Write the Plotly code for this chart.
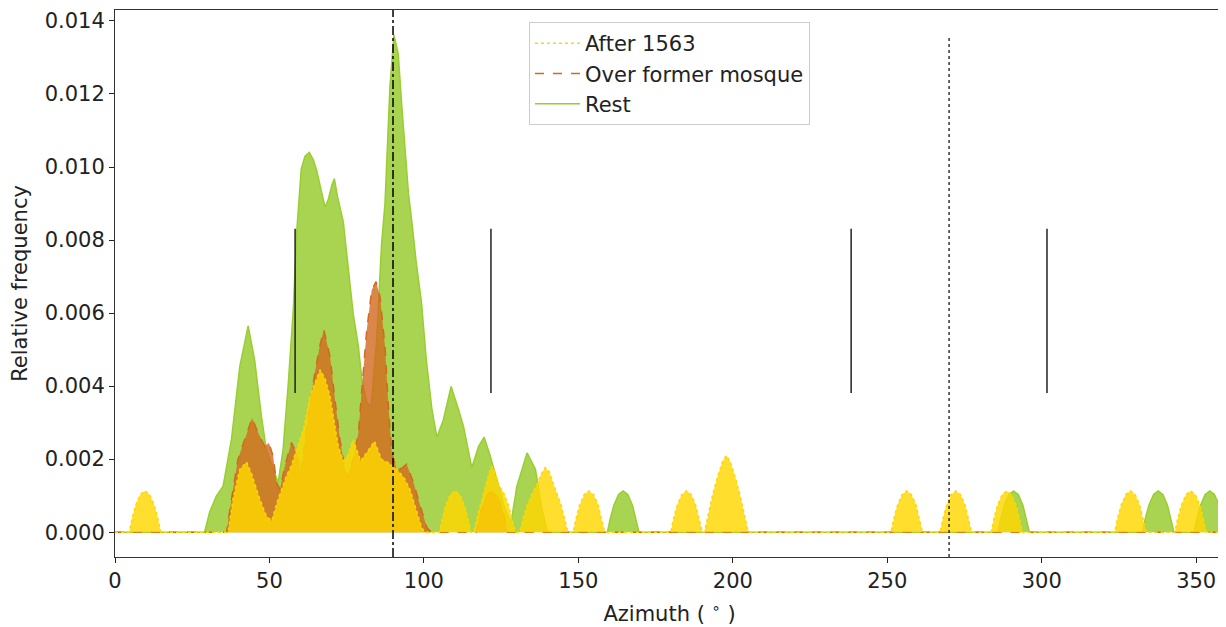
import plotly.graph_objects as go

# ---------------- data ----------------
# Rest
rest_az = [0, 29.0, 30.6, 32.8, 35.0, 37.7, 40.4, 43.1, 45.2, 47.4, 49.0, 51.2, 52.8, 54.4, 56.1,
           57.7, 58.8, 60.3, 61.5, 62.9, 64.2, 65.3, 66.8, 68.0, 69.0, 70.2, 71.0, 72.0, 73.9, 75.5,
           77.1, 78.8, 79.9, 81.5, 82.9, 84.7, 86.3, 87.4, 88.2, 89.0, 90.3, 91.7, 92.8, 93.9, 95.0,
           96.1, 97.5, 99.2, 100.8, 102.6, 104.2, 106.3, 108.8, 111.2, 112.8, 115.5, 117.7, 119.5,
           121.5, 124.2, 126.3, 128.2, 130.1, 133.4, 136.1, 138.2, 140.0,
           159.4, 160.3, 161.5, 163.0, 164.5, 166.0, 167.5, 168.7, 169.6,
           285.8, 286.7, 287.9, 289.4, 290.9, 292.4, 293.9, 295.1, 296.0,
           332.6, 333.5, 334.7, 336.2, 337.7, 339.2, 340.7, 341.9, 342.8,
           349.3, 350.2, 351.4, 352.9, 354.4, 355.9, 357.4, 358.6, 359.6, 360]
rest_freq = [0, 0, 0.54e-3, 0.99e-3, 1.26e-3, 2.54e-3, 4.54e-3, 5.65e-3, 4.72e-3, 3.17e-3, 2.26e-3,
             1.72e-3, 1.36e-3, 2.26e-3, 4.08e-3, 6.08e-3, 8.2e-3, 9.95e-3, 10.3e-3, 10.4e-3, 10.2e-3,
             9.9e-3, 9.3e-3, 8.9e-3, 9.1e-3, 9.5e-3, 9.68e-3, 9.2e-3, 8.5e-3, 7.27e-3, 5.99e-3,
             5.08e-3, 4.2e-3, 3.54e-3, 3.45e-3, 5.27e-3, 7.9e-3, 9.0e-3, 10.4e-3, 12.2e-3, 13.62e-3,
             13.09e-3, 11.72e-3, 10.36e-3, 9.27e-3, 8.5e-3, 7.4e-3, 6.3e-3, 4.7e-3, 3.36e-3, 2.6e-3,
             3.08e-3, 3.99e-3, 3.36e-3, 2.9e-3, 1.77e-3, 2.35e-3, 2.6e-3, 2.08e-3, 1.26e-3, 0.63e-3,
             0.26e-3, 1.26e-3, 2.17e-3, 1.72e-3, 0.63e-3, 0,
             0, 0.36e-3, 0.74e-3, 1.03e-3, 1.13e-3, 1.03e-3, 0.74e-3, 0.36e-3, 0,
             0, 0.36e-3, 0.74e-3, 1.03e-3, 1.13e-3, 1.03e-3, 0.74e-3, 0.36e-3, 0,
             0, 0.36e-3, 0.74e-3, 1.03e-3, 1.13e-3, 1.03e-3, 0.74e-3, 0.36e-3, 0,
             0, 0.36e-3, 0.74e-3, 1.03e-3, 1.13e-3, 1.03e-3, 0.74e-3, 0.36e-3, 0.08e-3, 0]

# Over former mosque
mosque_az = [0, 36.1, 37.7, 39.8, 42.0, 44.4, 46.3, 48.5, 49.8, 51.2, 52.3, 53.4, 55.0, 57.1, 58.8,
             60.2, 61.5, 63.0, 65.0, 66.3, 67.6, 69.6, 71.2, 72.8, 73.9, 75.0, 77.1, 78.8, 79.9, 81.5,
             83.1, 84.5, 85.8, 87.4, 88.5, 89.6, 91.2, 92.8, 94.4, 96.6, 98.8, 101.0, 102.3,
             116.9, 117.8, 119.0, 120.5, 122.0, 123.5, 125.0, 126.2, 127.1, 360]
mosque_freq = [0, 0, 0.9e-3, 1.99e-3, 2.54e-3, 3.13e-3, 2.72e-3, 2.35e-3, 2.45e-3, 2.08e-3, 1.36e-3,
               1.17e-3, 1.81e-3, 2.45e-3, 2.17e-3, 1.62e-3, 2.5e-3, 3.5e-3, 4.5e-3, 5.1e-3, 5.54e-3,
               4.81e-3, 3.63e-3, 2.54e-3, 1.99e-3, 1.5e-3, 1.99e-3, 2.72e-3, 3.9e-3, 5.54e-3, 6.63e-3,
               6.86e-3, 6.45e-3, 5.08e-3, 3.45e-3, 2.17e-3, 1.72e-3, 1.75e-3, 1.86e-3, 1.36e-3, 0.72e-3,
               0.12e-3, 0,
               0, 0.36e-3, 0.74e-3, 1.03e-3, 1.13e-3, 1.03e-3, 0.74e-3, 0.36e-3, 0, 0]

# After 1563
after_az = [0, 4.6, 5.5, 6.7, 8.2, 9.7, 11.2, 12.7, 13.9, 14.8,
            36.6, 38.2, 40.4, 42.6, 44.2, 46.9, 49.0, 50.7, 52.8, 54.3, 55.5, 57.0, 58.5, 61.3, 63.1,
            64.7, 66.4, 68.0, 69.6, 71.0, 72.3, 73.9, 75.3, 77.1, 78.5, 79.5, 81.4, 84.0, 86.3, 88.5,
            91.2, 93.5, 95.5, 97.5, 99.3, 100.3,
            105.0, 105.9, 107.1, 108.6, 110.1, 111.6, 113.1, 114.3, 115.2,
            116.0, 117.3, 118.6, 120.0, 121.0, 122.0, 123.0, 124.2, 125.8, 127.3, 128.6, 129.6,
            131.0, 132.0, 133.5, 135.0, 136.6, 138.0, 139.3, 140.6, 142.0, 143.2, 144.2, 145.6, 146.6,
            148.3, 149.2, 150.4, 151.9, 153.4, 154.9, 156.4, 157.6, 158.5,
            179.9, 180.8, 182.0, 183.5, 185.0, 186.5, 188.0, 189.2, 190.1,
            190.8, 192.0, 193.4, 195.0, 196.6, 197.9, 199.2, 200.8, 202.4, 203.8, 205.0,
            251.2, 252.1, 253.3, 254.8, 256.3, 257.8, 259.3, 260.5, 261.4,
            267.1, 268.0, 269.2, 270.7, 272.2, 273.7, 275.2, 276.4, 277.3,
            283.6, 284.5, 285.7, 287.2, 288.7, 290.2, 291.7, 292.9, 293.8,
            323.6, 324.5, 325.7, 327.2, 328.7, 330.2, 331.7, 332.9, 333.8,
            343.1, 344.0, 345.2, 346.7, 348.2, 349.7, 351.2, 352.4, 353.3, 360]
after_freq = [0, 0, 0.36e-3, 0.74e-3, 1.03e-3, 1.13e-3, 1.03e-3, 0.74e-3, 0.36e-3, 0,
              0, 0.9e-3, 1.72e-3, 1.92e-3, 1.6e-3, 0.9e-3, 0.44e-3, 0.31e-3, 0.9e-3, 1.26e-3,
              1.54e-3, 1.8e-3, 2.2e-3, 2.9e-3, 3.72e-3, 4.1e-3, 4.45e-3, 4.2e-3, 3.72e-3, 3.0e-3,
              2.35e-3, 1.95e-3, 2.1e-3, 2.54e-3, 2.2e-3, 1.95e-3, 2.17e-3, 2.49e-3, 1.99e-3, 1.9e-3,
              1.72e-3, 1.5e-3, 1.17e-3, 0.65e-3, 0.12e-3, 0,
              0, 0.36e-3, 0.74e-3, 1.03e-3, 1.13e-3, 1.03e-3, 0.74e-3, 0.36e-3, 0,
              0, 0.4e-3, 0.8e-3, 1.25e-3, 1.6e-3, 1.81e-3, 1.65e-3, 1.3e-3, 1.08e-3, 0.75e-3, 0.35e-3, 0,
              0, 0.35e-3, 0.75e-3, 1.05e-3, 1.3e-3, 1.6e-3, 1.77e-3, 1.65e-3, 1.3e-3, 1.0e-3, 0.8e-3,
              0.35e-3, 0,
              0, 0.36e-3, 0.74e-3, 1.03e-3, 1.13e-3, 1.03e-3, 0.74e-3, 0.36e-3, 0,
              0, 0.36e-3, 0.74e-3, 1.03e-3, 1.13e-3, 1.03e-3, 0.74e-3, 0.36e-3, 0,
              0, 0.45e-3, 1.0e-3, 1.5e-3, 1.92e-3, 2.1e-3, 1.92e-3, 1.5e-3, 1.0e-3, 0.45e-3, 0,
              0, 0.36e-3, 0.74e-3, 1.03e-3, 1.13e-3, 1.03e-3, 0.74e-3, 0.36e-3, 0,
              0, 0.36e-3, 0.74e-3, 1.03e-3, 1.13e-3, 1.03e-3, 0.74e-3, 0.36e-3, 0,
              0, 0.36e-3, 0.74e-3, 1.03e-3, 1.13e-3, 1.03e-3, 0.74e-3, 0.36e-3, 0,
              0, 0.36e-3, 0.74e-3, 1.03e-3, 1.13e-3, 1.03e-3, 0.74e-3, 0.36e-3, 0,
              0, 0.36e-3, 0.74e-3, 1.03e-3, 1.13e-3, 1.03e-3, 0.74e-3, 0.36e-3, 0, 0]

series_names = ["After 1563", "Over former mosque", "Rest"]
solstice_az = [58.3, 121.7, 238.3, 301.7]
east_az = 90
west_az = 270
x_ticks = [0, 50, 100, 150, 200, 250, 300, 350]
y_ticks = [0.000, 0.002, 0.004, 0.006, 0.008, 0.010, 0.012, 0.014]

# ---------------- figure ----------------
FONT = "DejaVu Sans"
FS = 21
fig = go.Figure()

# drawn bottom to top: Rest, Over former mosque, After 1563 (fill then edge line)
layers = [
    (rest_az, rest_freq, series_names[2], "rgba(154,205,50,0.85)", "#9ACD32", "solid", 3),
    (mosque_az, mosque_freq, series_names[1], "rgba(210,105,30,0.8)", "#D2691E", "dash", 2),
    (after_az, after_freq, series_names[0], "rgba(255,215,0,0.82)", "#FFD700", "dot", 1),
]
for xs, ys, name, fcol, lcol, dash, rank in layers:
    fig.add_trace(go.Scatter(x=xs, y=ys, mode="lines", fill="tozeroy", fillcolor=fcol,
                             line=dict(width=0), showlegend=False, hoverinfo="skip"))
    fig.add_trace(go.Scatter(x=xs, y=ys, mode="lines", name=name, legendrank=rank,
                             line=dict(color=lcol, width=1.5, dash=dash)))

# reference lines
fig.add_shape(type="line", x0=east_az, x1=east_az, y0=0, y1=1, xref="x", yref="y domain",
              line=dict(color="black", width=1.5, dash="dashdot"))
fig.add_shape(type="line", x0=west_az, x1=west_az, y0=0, y1=0.95, xref="x", yref="y domain",
              line=dict(color="black", width=1.2, dash="dot"))
for az in solstice_az:
    fig.add_shape(type="line", x0=az, x1=az, y0=0.3, y1=0.6, xref="x", yref="y domain",
                  line=dict(color="#222222", width=1.5))

# the page body adds an 8px margin, so the figure is sized/offset to compensate
fig.update_layout(
    width=1218, height=619,
    margin=dict(l=107, r=2, t=2, b=70),
    paper_bgcolor="white", plot_bgcolor="white",
    font=dict(family=FONT, size=FS, color="#222222"),
    showlegend=True,
    legend=dict(x=0.5, xanchor="center", y=0.978, yanchor="top", itemwidth=45,
                bgcolor="rgba(255,255,255,0.85)", bordercolor="#cccccc", borderwidth=1,
                font=dict(family=FONT, size=FS, color="#222222"), tracegroupgap=0),
)
fig.update_xaxes(range=[0, 359], tickvals=x_ticks, ticks="outside", ticklen=5, tickcolor="#222222",
                 showline=True, linecolor="#333333", linewidth=1, mirror=True, showgrid=False,
                 zeroline=False, automargin=False,
                 title=dict(text="Azimuth ( <sup>∘</sup> )", standoff=14,
                            font=dict(family=FONT, size=FS)),
                 tickfont=dict(family=FONT, size=FS))
fig.update_yaxes(range=[-0.00068, 0.01430], tickvals=y_ticks, tickformat=".3f", ticks="outside",
                 ticklen=5, tickcolor="#222222", showline=True, linecolor="#333333", linewidth=1,
                 mirror=True, showgrid=False, zeroline=False, automargin=False,
                 title=dict(text="Relative frequency", standoff=14, font=dict(family=FONT, size=FS)),
                 tickfont=dict(family=FONT, size=FS))

fig.write_html("out.html")
